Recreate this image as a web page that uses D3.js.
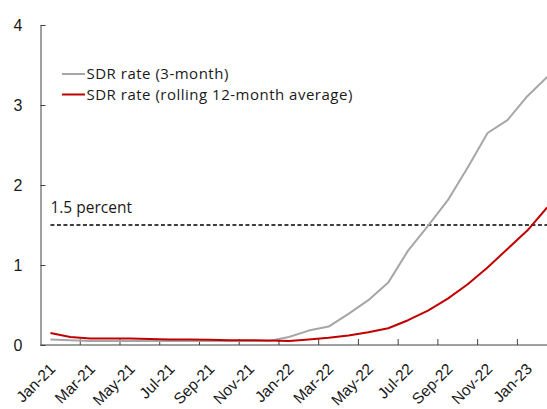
<!DOCTYPE html>
<html>
<head>
<meta charset="utf-8">
<script src="https://cdnjs.cloudflare.com/ajax/libs/d3/7.8.5/d3.min.js"></script>
<style>
  html, body { margin: 0; padding: 0; background: #fff; }
  svg { display: block; font-family: "Open Sans", "Noto Sans", sans-serif; }
</style>
</head>
<body>
<svg></svg>
<script>
const width = 547;
const height = 409;

// ================================
// Data
// ================================

const months = [
  'Jan-21','Feb-21','Mar-21','Apr-21','May-21','Jun-21','Jul-21','Aug-21','Sep-21','Oct-21','Nov-21','Dec-21',
  'Jan-22','Feb-22','Mar-22','Apr-22','May-22','Jun-22','Jul-22','Aug-22','Sep-22','Oct-22','Nov-22','Dec-22',
  'Jan-23','Feb-23'
];

const sdr3m = [
  0.07, 0.06, 0.05, 0.05, 0.05, 0.05, 0.05, 0.05, 0.05, 0.05, 0.05, 0.05,
  0.10, 0.18, 0.23, 0.39, 0.56, 0.78, 1.18, 1.49, 1.81, 2.22, 2.65, 2.81,
  3.11, 3.35
];

const sdr12m = [
  0.15, 0.10, 0.08, 0.08, 0.08, 0.075, 0.07, 0.07, 0.065, 0.06, 0.06, 0.055,
  0.05, 0.07, 0.09, 0.12, 0.16, 0.21, 0.31, 0.43, 0.58, 0.76, 0.97, 1.20,
  1.43, 1.72
];

const yTicks = [0, 1, 2, 3, 4];
const threshold = 1.5;
const thresholdLabel = '1.5 percent';

const seriesNames = ['SDR rate (3-month)', 'SDR rate (rolling 12-month average)'];
const seriesColors = ['#a6a6a6', '#c00000'];

// ================================
// Scales
// ================================

const plotLeft = 40.5;
const plotTop = 25;
const plotBottom = 345;
const monthWidth = 19.87;

const svg = d3.select('svg')
  .attr('width', width)
  .attr('height', height);

const x = d3.scaleBand()
  .domain(months)
  .range([plotLeft, plotLeft + months.length * monthWidth])
  .padding(0);

const y = d3.scaleLinear()
  .domain([0, 4])
  .range([plotBottom, plotTop]);

const xc = d => x(d) + x.bandwidth() / 2;

// ================================
// Axes
// ================================

const yAxis = svg.append('g')
  .attr('transform', `translate(${plotLeft},0)`)
  .call(d3.axisLeft(y)
    .tickValues(yTicks)
    .tickFormat(d3.format('d'))
    .tickSizeInner(-5)
    .tickSizeOuter(0)
    .tickPadding(18));

yAxis.select('.domain').attr('stroke', '#404040');
yAxis.selectAll('.tick line').attr('stroke', '#404040');
yAxis.selectAll('.tick text')
  .attr('font-size', 16)
  .attr('fill', '#1a1a1a');

const labelMonths = months.filter((d, i) => i % 2 === 0);

const xAxis = svg.append('g')
  .attr('transform', `translate(0,${plotBottom})`)
  .call(d3.axisBottom(x)
    .tickValues(labelMonths)
    .tickSize(0)
    .tickPadding(0));

xAxis.select('.domain').remove();
xAxis.selectAll('.tick text')
  .attr('font-size', 15.5)
  .attr('fill', '#1a1a1a')
  .attr('text-anchor', 'end')
  .attr('dy', '0.35em')
  .attr('transform', 'translate(2,21) rotate(-45)');

svg.append('line')
  .attr('x1', plotLeft)
  .attr('x2', width)
  .attr('y1', plotBottom)
  .attr('y2', plotBottom)
  .attr('stroke', '#404040');

svg.selectAll('.xtick')
  .data(labelMonths.slice(1))
  .enter()
  .append('line')
    .attr('class', 'xtick')
    .attr('x1', d => x(d))
    .attr('x2', d => x(d))
    .attr('y1', plotBottom)
    .attr('y2', plotBottom - 6)
    .attr('stroke', '#404040');

// ================================
// Threshold line
// ================================

svg.append('line')
  .attr('x1', xc(months[0]))
  .attr('x2', width)
  .attr('y1', y(threshold))
  .attr('y2', y(threshold))
  .attr('stroke', '#000')
  .attr('stroke-width', 1.5)
  .attr('stroke-dasharray', '4,2.5');

svg.append('text')
  .attr('x', xc(months[0]))
  .attr('y', y(threshold) - 12)
  .attr('font-size', 15.5)
  .attr('fill', '#1a1a1a')
  .text(thresholdLabel);

// ================================
// Lines
// ================================

const line = d3.line()
  .x((d, i) => xc(months[i]))
  .y(d => y(d));

[sdr3m, sdr12m].forEach((series, i) => {
  svg.append('path')
    .datum(series)
    .attr('fill', 'none')
    .attr('stroke', seriesColors[i])
    .attr('stroke-width', 2)
    .attr('stroke-linejoin', 'round')
    .attr('d', line);
});

// ================================
// Legend
// ================================

const legend = svg.selectAll('.legend')
  .data(seriesNames)
  .enter()
  .append('g')
    .attr('class', 'legend')
    .attr('transform', (d, i) => `translate(62,${74 + i * 20.5})`);

legend.append('line')
  .attr('x1', 0)
  .attr('x2', 23)
  .attr('stroke', (d, i) => seriesColors[i])
  .attr('stroke-width', 2);

legend.append('text')
  .attr('x', 24.5)
  .attr('dy', '0.35em')
  .attr('font-size', 15)
  .attr('letter-spacing', 0.5)
  .attr('fill', '#1a1a1a')
  .text(d => d);
</script>
</body>
</html>
